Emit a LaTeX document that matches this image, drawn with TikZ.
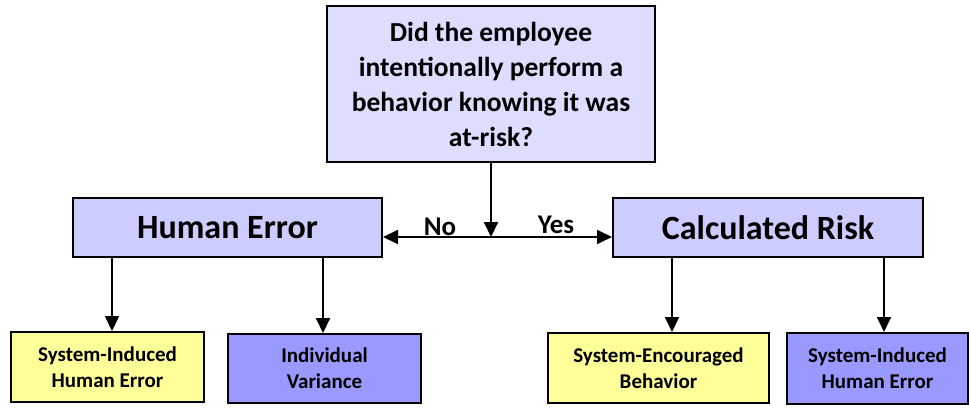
\documentclass[tikz,border=0pt]{standalone}
\usepackage{fontspec}
\setmainfont{Carlito}
\usetikzlibrary{arrows.meta,positioning}
\definecolor{qfill}{HTML}{DDDDFF}
\definecolor{mfill}{HTML}{CCCCFF}
\definecolor{yfill}{HTML}{FFFF99}
\definecolor{bfill}{HTML}{9999FF}
\tikzset{
  box/.style={draw=black, line width=2pt, inner sep=0pt, align=center, font=\bfseries},
  qbox/.style={box, fill=qfill, font=\bfseries\fontsize{27.5}{35}\selectfont},
  mbox/.style={box, fill=mfill, font=\bfseries\fontsize{34}{40}\selectfont},
  ybox/.style={box, fill=yfill, font=\bfseries\fontsize{21}{26}\selectfont},
  bbox/.style={box, fill=bfill, font=\bfseries\fontsize{21}{26}\selectfont},
  conn/.style={line width=1.8pt, -{Triangle[length=15pt,width=14pt]}},
  lbl/.style={font=\bfseries\fontsize{27}{30}\selectfont, inner sep=0pt}
}
\begin{document}
\begin{tikzpicture}[x=1pt,y=-1pt]
\useasboundingbox (0,0) rectangle (969,409);
\node[qbox, minimum width=328pt, minimum height=156pt] (q) at (491,84)
  {Did the employee\\intentionally perform a\\behavior knowing it was\\at-risk?};
\node[mbox, minimum width=309pt, minimum height=59pt] (he) at (227.5,227.5) {Human Error};
\node[mbox, minimum width=310pt, minimum height=59pt] (cr) at (768,227.5) {Calculated Risk};
\node[ybox, minimum width=193pt, minimum height=70pt] (y1) at (107.5,367) {System-Induced\\Human Error};
\node[bbox, minimum width=193pt, minimum height=69pt] (b1) at (324.5,368.5) {Individual\\Variance};
\node[ybox, minimum width=221pt, minimum height=70pt] (y2) at (658.5,368) {System-Encouraged\\Behavior};
\node[bbox, minimum width=181pt, minimum height=71pt] (b2) at (877.5,368.5) {System-Induced\\Human Error};
\coordinate (j) at (491,237);
\draw[conn] (q.south) -- (j);
\draw[conn] (j) -- (he.east |- j);
\draw[conn] (j) -- (cr.west |- j);
\node[lbl, anchor=base] (no) at (440,235) {No};
\node[lbl, anchor=base] (yes) at (556,233) {Yes};
\draw[conn] (he.south -| 112,0) -- (y1.north -| 112,0);
\draw[conn] (he.south -| 323,0) -- (b1.north -| 323,0);
\draw[conn] (cr.south -| 672,0) -- (y2.north -| 672,0);
\draw[conn] (cr.south -| 884,0) -- (b2.north -| 884,0);
\end{tikzpicture}
\end{document}
